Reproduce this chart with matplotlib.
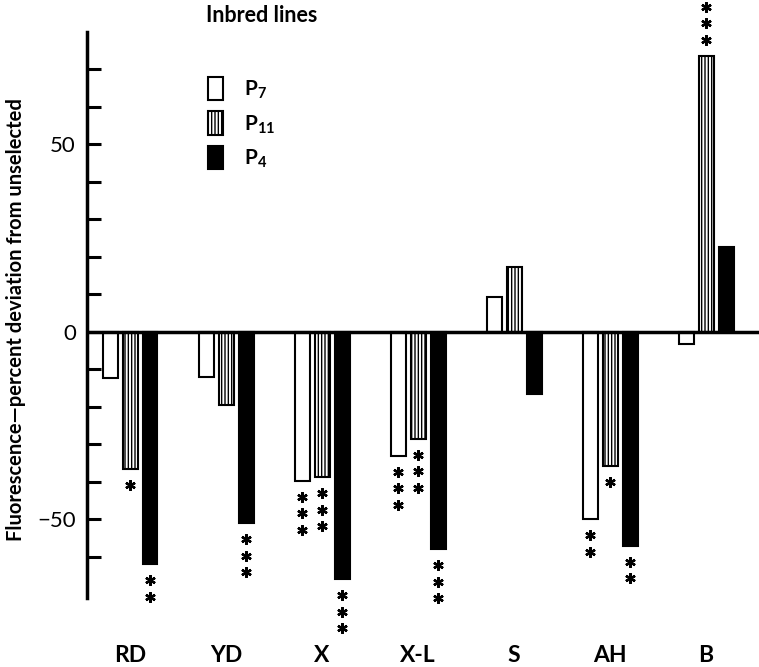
import matplotlib
matplotlib.use("Agg")
import matplotlib.pyplot as plt
import numpy as np

plt.rcParams['font.family'] = ['Lato', 'DejaVu Sans']
plt.rcParams['hatch.linewidth'] = 1.0

categories = ["RD", "YD", "X", "X-L", "S", "AH", "B"]
series_names = ["P7", "P11", "P4"]
legend_labels = [r"P$_{\mathregular{7}}$", r"P$_{\mathregular{11}}$", r"P$_{\mathregular{4}}$"]
p7 = [-12.3, -12.0, -39.7, -33.0, 9.3, -50.0, -3.2]
p11 = [-36.5, -19.5, -38.7, -28.5, 17.3, -35.7, 73.6]
p4 = [-62.0, -51.0, -66.0, -58.0, -16.5, -57.0, 22.7]
sig_p7 = [0, 0, 3, 3, 0, 2, 0]
sig_p11 = [1, 0, 3, 3, 0, 1, 3]
sig_p4 = [2, 3, 3, 3, 0, 2, 0]
ytick_major = [-50, 0, 50]
ytick_labels = ["\u221250", "0", "50"]
ytick_minor = [-60, -40, -30, -20, -10, 10, 20, 30, 40, 60, 70]

W, H = 759, 667
fig = plt.figure(figsize=(W / 100, H / 100), dpi=100)
ax = fig.add_axes([87 / W, (H - 598) / H, (W - 87) / W, (598 - 32) / H])

x = np.arange(len(categories))
width = 0.156
step = 0.208
styles = [dict(facecolor="white", edgecolor="black", hatch=None),
          dict(facecolor="white", edgecolor="black", hatch="|||||"),
          dict(facecolor="black", edgecolor="black", hatch=None)]
series = [p7, p11, p4]
sigs = [sig_p7, sig_p11, sig_p4]
handles = []
for i, (vals, st) in enumerate(zip(series, styles)):
    b = ax.bar(x + (i - 1) * step, vals, width, linewidth=1.5, **st)
    handles.append(b)
    for xi, v, s in zip(x + (i - 1) * step, vals, sigs[i]):
        sign = 1 if v > 0 else -1
        for k in range(s):
            ax.plot(xi, v + sign * (4.3 + k * 4.4), marker=(6, 2, 0),
                    markersize=7.5, mew=1.7, color="black", clip_on=False)

ax.set_xlim(-0.448, 6.55)
ax.set_ylim(-71, 80)
ax.axhline(0, color="black", lw=2.5)
for sp in ["top", "right", "bottom"]:
    ax.spines[sp].set_visible(False)
ax.spines["left"].set_linewidth(2.5)
ax.set_xticks([])
ax.set_yticks(ytick_major)
ax.set_yticklabels(ytick_labels, fontsize=16)
ax.set_yticks(ytick_minor, minor=True)
ax.tick_params(axis="y", which="both", direction="in", length=10, width=2.2, pad=8)

label_y = (598 - 655) / (598 - 32)
for xi, c in zip(x, categories):
    ax.text(xi, label_y, c, transform=ax.get_xaxis_transform(), ha="center", va="center",
            fontsize=16.5, fontweight="bold")

fig.text(16 / W, (H - 320) / H, "Fluorescence\u2014percent deviation from unselected",
         rotation=90, ha="center", va="center", fontsize=14.5, fontweight="bold")
fig.text(262 / W, (H - 16) / H, "Inbred lines", ha="center", va="center",
         fontsize=15.5, fontweight="bold")

leg = ax.legend(handles, legend_labels, loc="upper left",
                bbox_to_anchor=((189 - 87) / (W - 87), (598 - 58) / (598 - 32)),
                bbox_transform=ax.transAxes, frameon=False, prop=dict(size=15, weight="bold"),
                handlelength=0.75, handleheight=1.35, labelspacing=0.5, handletextpad=1.0)

fig.savefig("out.png", dpi=100)
